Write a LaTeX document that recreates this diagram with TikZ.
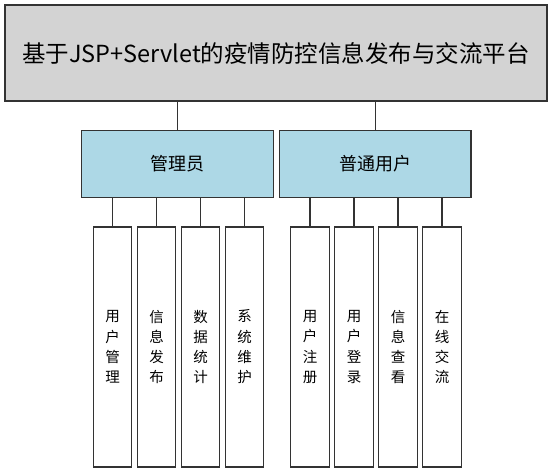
\documentclass[tikz,border=0pt]{standalone}
\usepackage{fontspec}
\setmainfont{Noto Sans CJK SC}
\definecolor{topgray}{HTML}{D3D3D3}
\definecolor{roleblue}{HTML}{ADD8E6}
\definecolor{edgegray}{HTML}{333333}

\begin{document}
\begin{tikzpicture}[x=1pt,y=-1pt,
    box/.style={draw=edgegray,line width=1.2pt,inner sep=0pt},
    link/.style={draw=edgegray,line width=1.2pt}]
    \useasboundingbox [fill=white] (0,0) rectangle (553,473); % page
    \node [box,fill=topgray,minimum width=542pt,minimum height=96pt,font=\fontsize{23.5}{26}\selectfont] (sys) at (276,53) {基于JSP+Servlet的疫情防控信息发布与交流平台}; % system
    \node [box,fill=roleblue,minimum width=191.6pt,minimum height=66.6pt,font=\fontsize{18}{20}\selectfont] (admin) at (177.5,164) {管理员}; % admin
    \node [box,fill=roleblue,minimum width=191.6pt,minimum height=66.6pt,font=\fontsize{18}{20}\selectfont] (user) at (375.2,164) {普通用户}; % user

    % admin functions
    \node [box,fill=white,minimum width=38.5pt,minimum height=240pt,align=center,font=\fontsize{14.5}{20.3}\selectfont] (userman) at (112.5,347) {用\\户\\管\\理};
    \node [box,fill=white,minimum width=38.5pt,minimum height=240pt,align=center,font=\fontsize{14.5}{20.3}\selectfont] (infopub) at (156.5,347) {信\\息\\发\\布};
    \node [box,fill=white,minimum width=38.5pt,minimum height=240pt,align=center,font=\fontsize{14.5}{20.3}\selectfont] (stats) at (200.5,347) {数\\据\\统\\计};
    \node [box,fill=white,minimum width=38.5pt,minimum height=240pt,align=center,font=\fontsize{14.5}{20.3}\selectfont] (maint) at (244.5,347) {系\\统\\维\\护};
    % user functions
    \node [box,fill=white,minimum width=38.5pt,minimum height=240pt,align=center,font=\fontsize{14.5}{20.3}\selectfont] (reg) at (310,347) {用\\户\\注\\册};
    \node [box,fill=white,minimum width=38.5pt,minimum height=240pt,align=center,font=\fontsize{14.5}{20.3}\selectfont] (login) at (354,347) {用\\户\\登\\录};
    \node [box,fill=white,minimum width=38.5pt,minimum height=240pt,align=center,font=\fontsize{14.5}{20.3}\selectfont] (view) at (398,347) {信\\息\\查\\看};
    \node [box,fill=white,minimum width=38.5pt,minimum height=240pt,align=center,font=\fontsize{14.5}{20.3}\selectfont] (chat) at (442,347) {在\\线\\交\\流};

    \draw [link] (admin.north) -- (admin.north |- sys.south); \draw [link] (user.north) -- (user.north |- sys.south); % roles
    \draw [link] (userman.north) -- (userman.north |- admin.south); \draw [link] (infopub.north) -- (infopub.north |- admin.south);
    \draw [link] (stats.north) -- (stats.north |- admin.south); \draw [link] (maint.north) -- (maint.north |- admin.south);
    \draw [link] (reg.north) -- (reg.north |- user.south); \draw [link] (login.north) -- (login.north |- user.south);
    \draw [link] (view.north) -- (view.north |- user.south); \draw [link] (chat.north) -- (chat.north |- user.south);
\end{tikzpicture}
\end{document}
